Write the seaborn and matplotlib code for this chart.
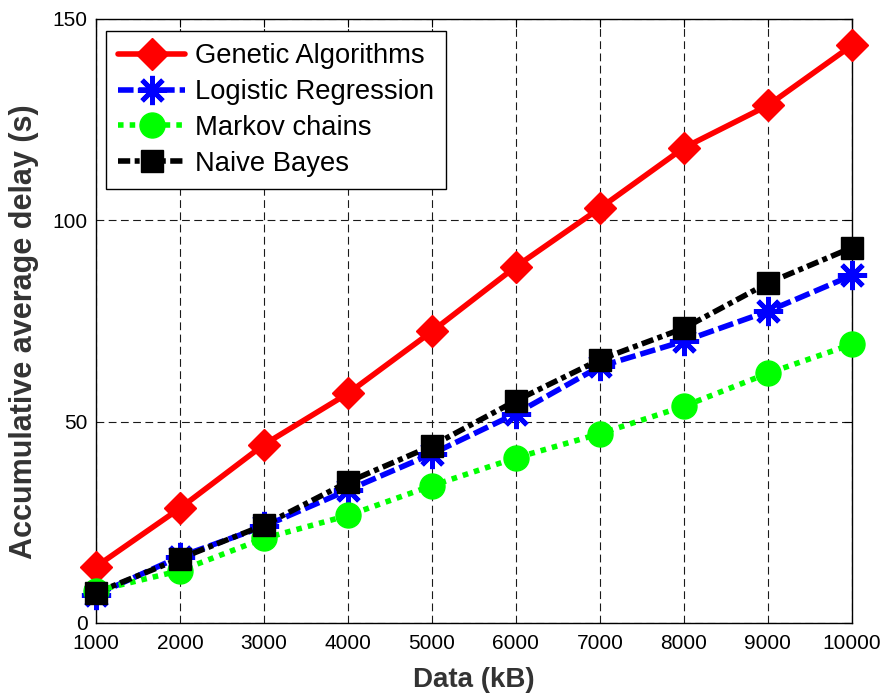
import numpy as np
import pandas as pd
import matplotlib
matplotlib.use("Agg")
import matplotlib.pyplot as plt
import seaborn as sns

# Data
data_kb = [1000, 2000, 3000, 4000, 5000, 6000, 7000, 8000, 9000, 10000]
genetic = [14, 28.5, 44.3, 57, 72.4, 88.5, 103, 118, 128.5, 143.4]
logistic = [7, 16.5, 24, 33, 42, 52, 63.7, 70, 77.4, 86.3]
markov = [8, 13, 21, 26.7, 34.1, 41, 47, 53.8, 62, 69.2]
naive = [7.5, 16, 24.3, 35, 44, 55.2, 65.4, 73.2, 84.4, 93.2]

series_names = ["Genetic Algorithms", "Logistic Regression", "Markov chains", "Naive Bayes"]

sns.set_style("white")
plt.rcParams["font.family"] = ["Liberation Sans", "DejaVu Sans"]

fig = plt.figure(figsize=(8.84, 7.0), dpi=100)
ax = fig.add_axes([0.1086, 0.11, 0.855, 0.863])

styles = [
    dict(color="#FF0000", marker="D", markersize=16, markeredgewidth=1, linestyle="-"),
    dict(color="#0000FF", marker=(8, 2, 0), markersize=21, markeredgewidth=3.5, linestyle=(0, (2.8, 0.9))),
    dict(color="#00FF00", marker="o", markersize=18, markeredgewidth=1, linestyle=(0, (1, 1.1))),
    dict(color="#000000", marker="s", markersize=16, markeredgewidth=1, linestyle=(0, (2.2, 0.8, 0.9, 0.8))),
]

for name, values, st in zip(series_names, [genetic, logistic, markov, naive], styles):
    sns.lineplot(x=data_kb, y=values, ax=ax, label=name, linewidth=4,
                 markeredgecolor=st["color"], clip_on=False, zorder=3, **st)

ax.set_xlim(1000, 10000)
ax.set_ylim(0, 150)
ax.set_xticks(data_kb)
ax.set_yticks([0, 50, 100, 150])

ax.grid(True, color="0.1", linestyle=(0, (7, 4)), linewidth=0.8)
for s in ax.spines.values():
    s.set_color("black")
    s.set_linewidth(1.0)
ax.tick_params(direction="in", length=6, width=0.8, top=True, right=True,
               labelsize=15, colors="black", pad=6)
ax.tick_params(axis="x", pad=8)

ax.set_xlabel("Data (kB)", fontsize=20, fontweight="bold", color="#333333", labelpad=10)
ax.set_ylabel("Accumulative average delay (s)", fontsize=22, fontweight="bold", color="#333333")
ax.yaxis.set_label_coords(-0.075, 0.482)

leg = ax.legend(loc="upper left", bbox_to_anchor=(0.013, 0.98), fontsize=19.7,
                frameon=True, fancybox=False, framealpha=1, edgecolor="black",
                handlelength=2.45, handletextpad=0.35, labelspacing=0.36, borderpad=0.45,
                borderaxespad=0, labelcolor="black")
leg.get_frame().set_linewidth(1.0)

fig.savefig("out.png", dpi=100)
